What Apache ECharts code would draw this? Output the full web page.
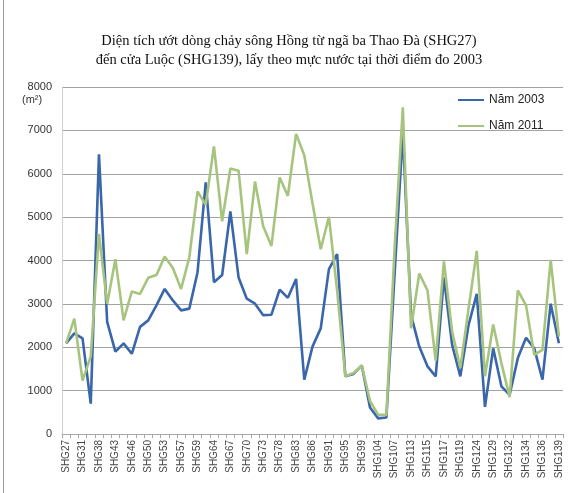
<!DOCTYPE html>
<html>
<head>
<meta charset="utf-8">
<script src="https://cdn.jsdelivr.net/npm/echarts@6/dist/echarts.min.js"></script>
<style>
  html, body { margin: 0; padding: 0; background: #fff; }
  #chart { width: 578px; height: 493px; }
</style>
</head>
<body>
<div id="chart"></div>
<script>
// mặt cắt dọc sông Hồng, SHG27 -> SHG139 (only every other name is printed on the axis)
const sections = [
    'SHG27', 'SHG29', 'SHG31', 'SHG35', 'SHG38', 'SHG41', 'SHG43', 'SHG45', 'SHG46', 'SHG48',
    'SHG50', 'SHG52', 'SHG53', 'SHG55', 'SHG57', 'SHG58', 'SHG59', 'SHG62', 'SHG64', 'SHG66',
    'SHG67', 'SHG69', 'SHG70', 'SHG72', 'SHG73', 'SHG76', 'SHG78', 'SHG81', 'SHG83', 'SHG85',
    'SHG86', 'SHG88', 'SHG91', 'SHG93', 'SHG95', 'SHG97', 'SHG99', 'SHG102', 'SHG104', 'SHG106',
    'SHG107', 'SHG110', 'SHG113', 'SHG114', 'SHG115', 'SHG116', 'SHG117', 'SHG118', 'SHG119', 'SHG122',
    'SHG124', 'SHG127', 'SHG129', 'SHG131', 'SHG132', 'SHG133', 'SHG134', 'SHG135', 'SHG136', 'SHG138',
    'SHG139'
];

// diện tích ướt (m2)
const area2003 = [
    2090, 2320, 2205, 700, 6450, 2585, 1900, 2090, 1850, 2470,
    2620, 2965, 3345, 3080, 2850, 2890, 3725, 5800, 3500, 3665,
    5130, 3610, 3120, 3005, 2740, 2750, 3330, 3140, 3575, 1255,
    2015, 2435, 3800, 4145, 1330, 1385, 1580, 610, 360, 380,
    3700, 6960, 2740, 2015, 1560, 1330, 3610, 2055, 1330, 2510,
    3230, 625, 1975, 1100, 900, 1750, 2220, 1975, 1255, 3005,
    2090
];
const area2011 = [
    2090, 2660, 1230, 1790, 4615, 3000, 4030, 2620, 3285, 3230,
    3600, 3665, 4090, 3825, 3345, 4070, 5590, 5285, 6630, 4905,
    6120, 6070, 4145, 5820, 4790, 4335, 5915, 5490, 6920, 6425,
    5320, 4260, 5005, 3300, 1330, 1405, 1580, 760, 440, 440,
    4300, 7530, 2435, 3700, 3310, 1690, 3980, 2360, 1520, 2890,
    4220, 1330, 2525, 1635, 850, 3310, 2965, 1825, 1940, 4015,
    2245
];

const seriesNames = ['Năm 2003', 'Năm 2011'];
const titleLines = [
    'Diện tích ướt dòng chảy sông Hồng từ ngã ba Thao Đà (SHG27)',
    'đến cửa Luộc (SHG139), lấy theo mực nước tại thời điểm đo 2003'
];

const chart = echarts.init(document.getElementById('chart'), null, {renderer: 'canvas'});

const option = {
    animation: false,
    title: {
        text: titleLines.join('\n'),
        left: 'center',
        top: 27,
        textStyle: {
            fontFamily: '"Liberation Serif", "DejaVu Serif", serif',
            fontSize: 14.5,
            fontWeight: 'normal',
            color: '#111',
            lineHeight: 19
        }
    },
    graphic: [
        {
            type: 'text',
            left: 22,
            top: 94,
            style: {
                text: '(m²)',
                font: '11px "Liberation Sans", Arial, sans-serif',
                fill: '#333'
            }
        },
        {
            type: 'line',
            shape: {x1: 3.5, y1: 0, x2: 3.5, y2: 493},
            style: {stroke: '#9a9a9a', lineWidth: 1}
        }
    ],
    legend: {
        orient: 'vertical',
        left: 453,
        top: 89,
        itemWidth: 26,
        itemHeight: 2,
        itemGap: 14,
        icon: 'rect',
        textStyle: {
            fontFamily: '"Liberation Sans", Arial, sans-serif',
            fontSize: 12,
            color: '#222'
        },
        data: seriesNames
    },
    grid: {
        left: 62,
        right: 15,
        top: 87,
        bottom: 59
    },
    xAxis: {
        type: 'category',
        data: sections,
        boundaryGap: true,
        axisLine: {lineStyle: {color: '#a8a8a8'}},
        axisTick: {show: true, interval: 0, length: 4, lineStyle: {color: '#a8a8a8'}},
        axisLabel: {
            interval: 1,
            rotate: 90,
            margin: 6,
            fontFamily: '"Liberation Sans", Arial, sans-serif',
            fontSize: 10,
            color: '#444'
        }
    },
    yAxis: {
        type: 'value',
        min: 0,
        max: 8000,
        interval: 1000,
        axisLine: {show: true, lineStyle: {color: '#cfcfcf'}},
        axisTick: {show: false},
        axisLabel: {
            margin: 10,
            formatter: (v) => String(v),
            fontFamily: '"Liberation Sans", Arial, sans-serif',
            fontSize: 11,
            color: '#333'
        },
        splitLine: {lineStyle: {color: '#a3a3a3', width: 1}}
    },
    series: [
        {
            name: seriesNames[0],
            type: 'line',
            data: area2003,
            symbol: 'none',
            lineStyle: {width: 2.6, color: '#3a66aa'},
            itemStyle: {color: '#3a66aa'}
        },
        {
            name: seriesNames[1],
            type: 'line',
            data: area2011,
            symbol: 'none',
            lineStyle: {width: 2.6, color: '#a7c47f'},
            itemStyle: {color: '#a7c47f'}
        }
    ]
};

chart.setOption(option);
</script>
</body>
</html>
